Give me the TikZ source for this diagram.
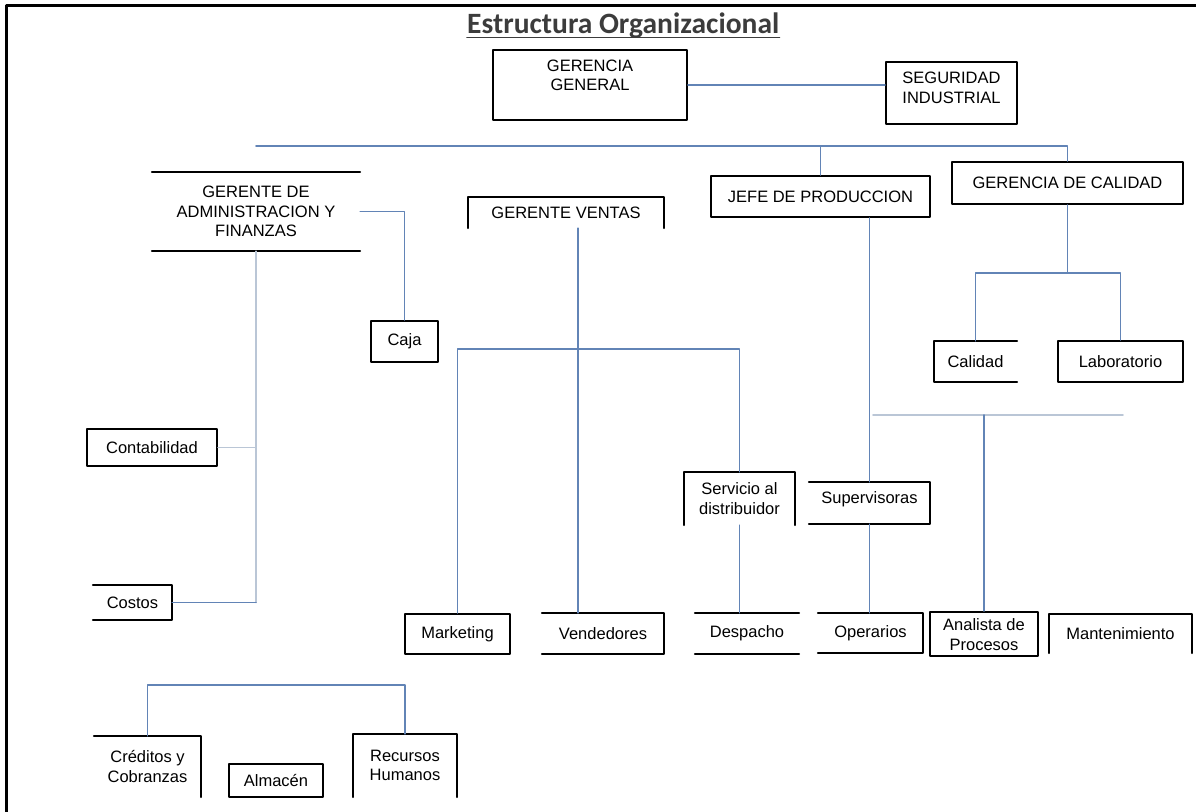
\documentclass[tikz,border=0pt]{standalone}
\usepackage{fontspec}
\setmainfont{Liberation Sans}
\newfontfamily\titlefont{Carlito}
\usepackage{tikz}
\usetikzlibrary{positioning}
\definecolor{linkblue}{RGB}{98,132,182}
\definecolor{linkgray}{RGB}{186,198,214}
\definecolor{titlegray}{RGB}{60,60,60}
\tikzset{
  puesto/.style={inner sep=0pt,align=center,font=\fontsize{16.5}{19.5}\selectfont},
  puestobox/.style={puesto,draw=black,line width=2pt},
  side/.style={line width=2pt,draw=black},
  link/.style={draw=linkblue,line width=1.8pt},
  faint/.style={draw=linkgray,line width=1.6pt}
}
\begin{document}
\begin{tikzpicture}[x=1pt,y=-1pt,line cap=round,line join=round]
			\clip(0,0) rectangle (1196,811);
			% marco
			\draw [line width=3pt] (6,820)-- (6,5)-- (1200,5);
			% titulo
			\node[anchor=base west,inner sep=0pt,text=titlegray,font=\titlefont\bfseries\fontsize{29.5}{33}\selectfont] (title) at (467,33) {Estructura Organizacional};
			\draw [line width=1.8pt,titlegray] ([yshift=-4.5pt]title.base west)-- ([yshift=-4.5pt]title.base east);
			% cargos superiores
			\node[puestobox,minimum width=194pt,minimum height=70pt] (gg) at (590,85) {GERENCIA\\GENERAL\\\mbox{}};
			\node[puestobox,minimum width=131pt,minimum height=62pt] (seg) at (951.5,93) {SEGURIDAD\\INDUSTRIAL\\[-9pt]\mbox{}};
			\node[puesto,minimum width=208pt,minimum height=79pt] (adm) at (256,211.5) {GERENTE DE\\ADMINISTRACION Y\\FINANZAS};
			\node[puesto,minimum width=196pt,minimum height=31pt] (ventas) at (566,212.5) {GERENTE VENTAS};
			\node[puestobox,minimum width=219pt,minimum height=41pt] (jefe) at (820.5,196.5) {JEFE DE PRODUCCION};
			\node[puestobox,minimum width=231pt,minimum height=42pt] (gcal) at (1067.5,183) {GERENCIA DE CALIDAD};
			% administracion
			\node[puestobox,minimum width=67pt,minimum height=41pt] (caja) at (404.5,341.5) {Caja};
			\node[puestobox,minimum width=130pt,minimum height=37pt] (cont) at (152,447.5) {Contabilidad};
			\node[puesto,minimum width=79pt,minimum height=35pt] (costos) at (132.5,602.5) {Costos};
			\node[puesto,minimum width=107pt,minimum height=61pt] (cred) at (147.5,766.5) {Créditos y\\Cobranzas};
			\node[puestobox,minimum width=94pt,minimum height=33pt] (alm) at (276,780.5) {Almacén};
			\node[puesto,minimum width=104pt,minimum height=63pt] (rrhh) at (405,765.5) {Recursos\\Humanos};
			% ventas y produccion
			\node[puesto,minimum width=111pt,minimum height=53pt] (serv) at (739.5,498.5) {Servicio al\\distribuidor};
			\node[puesto,minimum width=121pt,minimum height=42pt] (sup) at (869.5,503) {Supervisoras\\[-9pt]\mbox{}};
			\node[puestobox,minimum width=105pt,minimum height=40pt] (mkt) at (457.5,634) {Marketing};
			\node[puesto,minimum width=122pt,minimum height=41pt] (vend) at (603,633.5) {Vendedores};
			\node[puesto,minimum width=104pt,minimum height=41pt] (desp) at (747,633.5) {Despacho};
			\node[puesto,minimum width=105pt,minimum height=40pt] (oper) at (870.5,633) {Operarios};
			\node[puestobox,minimum width=108pt,minimum height=44pt] (anal) at (984,634) {\mbox{}\\[-6pt]Analista de\\Procesos};
			\node[puesto,minimum width=143pt,minimum height=39pt] (mant) at (1120.5,633.5) {Mantenimiento};
			% calidad
			\node[puesto,minimum width=83pt,minimum height=41pt] (calidad) at (975.5,361.5) {Calidad};
			\node[puestobox,minimum width=125pt,minimum height=41pt] (lab) at (1120.5,361.5) {Laboratorio};
			% lados de los cuadros abiertos
			\draw [side] (adm.north west)-- (adm.north east);
			\draw [side] (adm.south west)-- (adm.south east);
			\draw [side] (ventas.south west)-- (ventas.north west)-- (ventas.north east)-- (ventas.south east);
			\draw [side] (costos.north west)-- (costos.north east)-- (costos.south east)-- (costos.south west);
			\draw [side] (cred.north west)-- (cred.north east)-- (cred.south east);
			\draw [side] (rrhh.south west)-- (rrhh.north west)-- (rrhh.north east)-- (rrhh.south east);
			\draw [side] (serv.south west)-- (serv.north west)-- (serv.north east)-- (serv.south east);
			\draw [side] (sup.north west)-- (sup.north east)-- (sup.south east)-- (sup.south west);
			\draw [side] (vend.north west)-- (vend.north east)-- (vend.south east)-- (vend.south west);
			\draw [side] (desp.north west)-- (desp.north east);
			\draw [side] (desp.south west)-- (desp.south east);
			\draw [side] (oper.north west)-- (oper.north east)-- (oper.south east)-- (oper.south west);
			\draw [side] (mant.south west)-- (mant.north west)-- (mant.north east)-- (mant.south east);
			\draw [side] (calidad.north east)-- (calidad.north west)-- (calidad.south west)-- (calidad.south east);
			% conexiones
			\coordinate (busL) at (256,146);
			\coordinate (vbus) at (600,349);
			\coordinate (pbusL) at (873,415);
			\coordinate (pbusR) at (1123,415);
			\coordinate (qbus) at (1067.5,273);
			\coordinate (rbus) at (280,685);
			\draw [link] (gg.east)-- (gg.east -| seg.west);
			\draw [link] (busL) -| (gcal.north);
			\draw [link] (jefe.north)-- (jefe.north |- busL);
			\draw [link] (adm.east) -| (caja.north);
			\draw [faint] (adm.south)-- (adm.south |- costos.east);
			\draw [faint] (cont.east)-- (cont.east -| adm.south);
			\draw [link] (costos.east)-- (costos.east -| adm.south);
			\draw [link] ([xshift=12pt]ventas.south)-- ([xshift=12pt]ventas.south |- vend.north);
			\draw [link] (mkt.north) |- (vbus) -| (serv.north);
			\draw [link] (serv.south)-- (serv.south |- desp.north);
			\draw [link] (jefe.south -| sup.north)-- (sup.north);
			\draw [link] (sup.south)-- (sup.south |- oper.north);
			\draw [faint] (pbusL)-- (pbusR);
			\draw [link] (anal.north)-- (anal.north |- pbusL);
			\draw [link] (gcal.south)-- (qbus);
			\draw [link] (calidad.north) |- (qbus) -| (lab.north);
			\draw [link] (cred.north) |- (rbus) -| (rrhh.north);
		\end{tikzpicture}
\end{document}
